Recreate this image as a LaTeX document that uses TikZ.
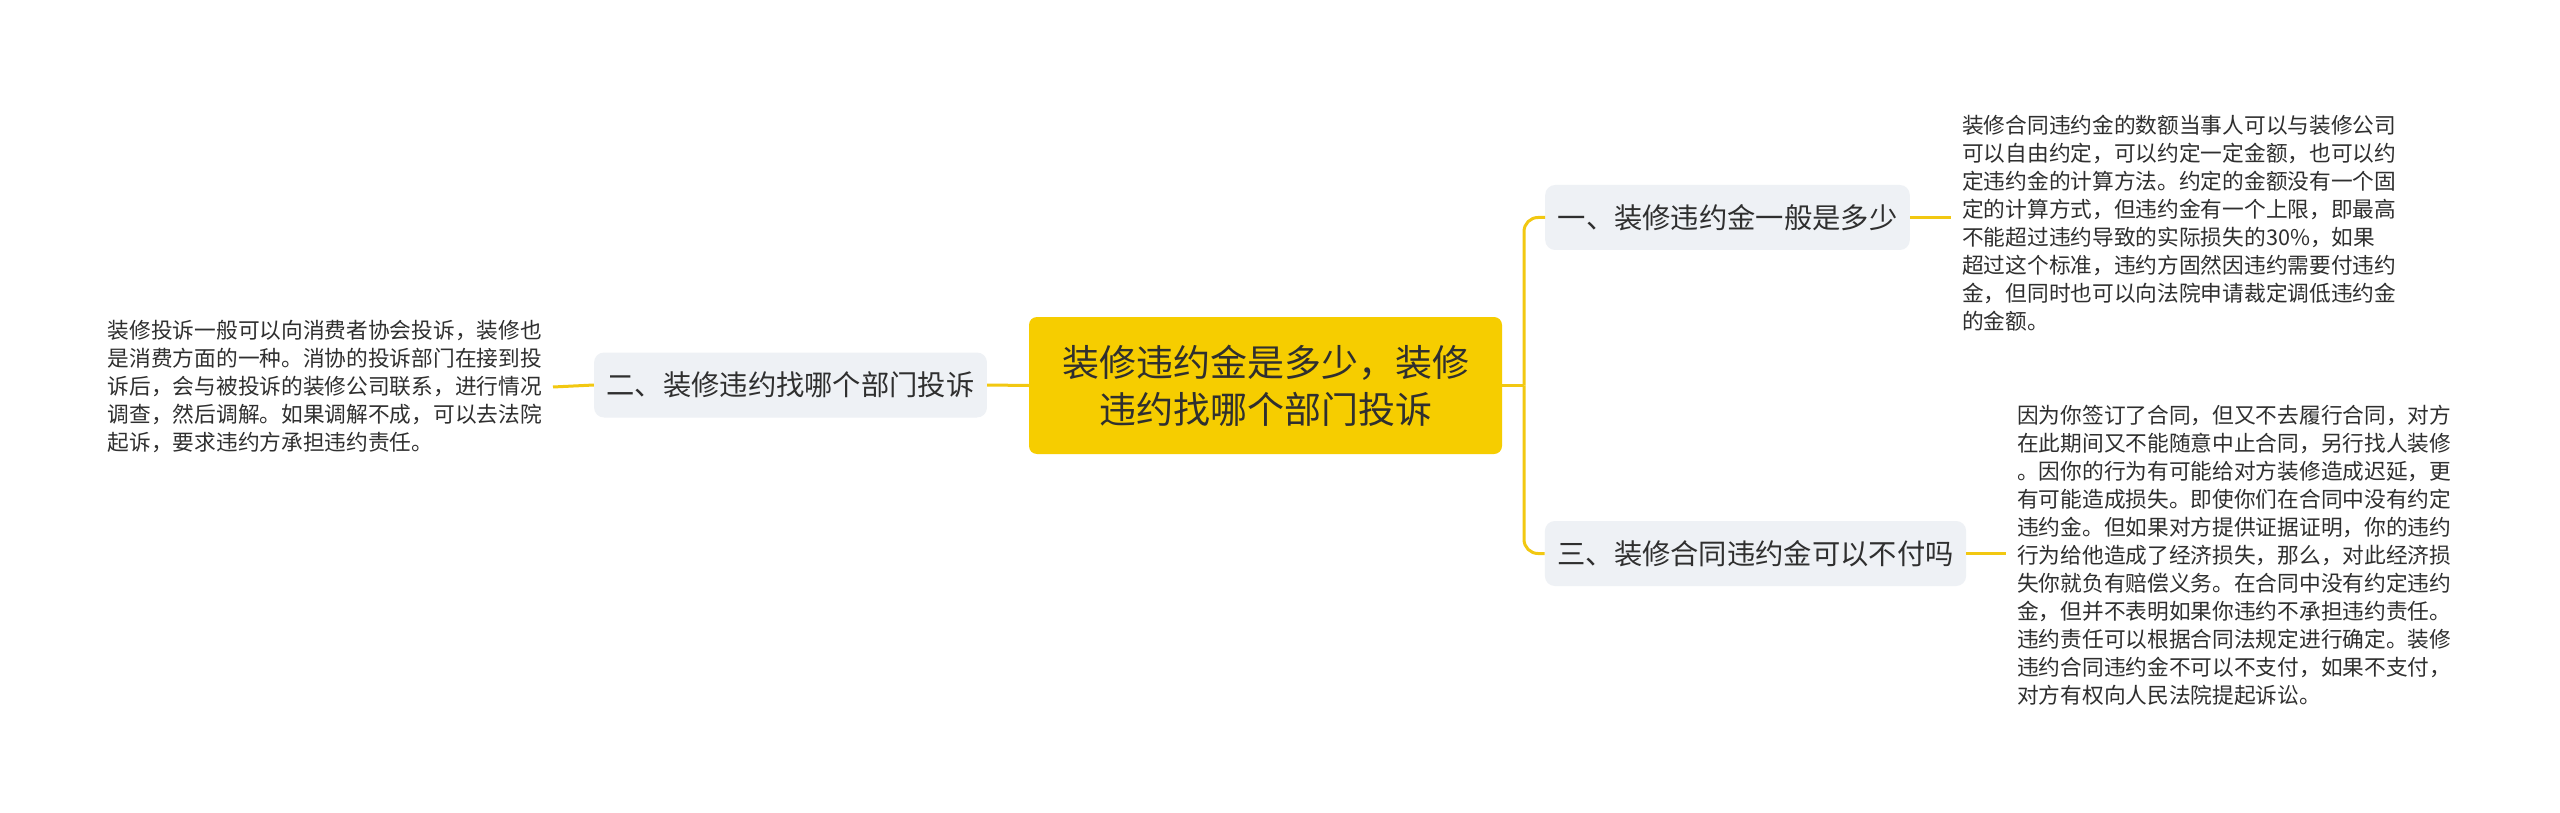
\documentclass[tikz,border=0pt]{standalone}
\usepackage{fontspec}
\setmainfont{Noto Sans CJK SC}
\usetikzlibrary{positioning}
\definecolor{mainyellow}{HTML}{F6CD00}
\definecolor{linecol}{HTML}{F2C811}
\definecolor{subfill}{HTML}{EEF1F5}
\definecolor{txt}{HTML}{2F2F2F}
\begin{document}
\begin{tikzpicture}[x=1pt,y=-1pt,
  rootbox/.style={fill=mainyellow, rounded corners=8pt, minimum width=473pt, minimum height=137pt, align=center, text=txt, inner sep=0pt, font=\fontsize{37}{47}\selectfont},
  subbox/.style={fill=subfill, rounded corners=10pt, minimum height=65pt, inner xsep=12.5pt, inner ysep=0pt, text=txt, font=\fontsize{28.3}{34}\selectfont},
  para/.style={align=left, text=txt, inner xsep=11pt, inner ysep=0pt, font=\fontsize{21.7}{28}\selectfont},
  conn/.style={draw=linecol, line width=3pt}
]
\fill[white] (0,0) rectangle (2560,813);
\useasboundingbox (0,0) rectangle (2560,813);

\node[rootbox] (c) at (1265.5,385.5) {装修违约金是多少，装修\\违约找哪个部门投诉};
\node[subbox] (n1) at (1727.5,217.5) {一、装修违约金一般是多少};
\node[subbox] (n2) at (790.5,385) {二、装修违约找哪个部门投诉};
\node[subbox] (n3) at (1755.5,553.5) {三、装修合同违约金可以不付吗};

\node[para, anchor=west] (t1) at (1951,223.5) {装修合同违约金的数额当事人可以与装修公司\\可以自由约定，可以约定一定金额，也可以约\\定违约金的计算方法。约定的金额没有一个固\\定的计算方式，但违约金有一个上限，即最高\\不能超过违约导致的实际损失的30\%，如果\\超过这个标准，违约方固然因违约需要付违约\\金，但同时也可以向法院申请裁定调低违约金\\的金额。};
\node[para, anchor=east] (t2) at (553,387) {装修投诉一般可以向消费者协会投诉，装修也\\是消费方面的一种。消协的投诉部门在接到投\\诉后，会与被投诉的装修公司联系，进行情况\\调查，然后调解。如果调解不成，可以去法院\\起诉，要求违约方承担违约责任。};
\node[para, anchor=west] (t3) at (2006,555) {因为你签订了合同，但又不去履行合同，对方\\在此期间又不能随意中止合同，另行找人装修\\。因你的行为有可能给对方装修造成迟延，更\\有可能造成损失。即使你们在合同中没有约定\\违约金。但如果对方提供证据证明，你的违约\\行为给他造成了经济损失，那么，对此经济损\\失你就负有赔偿义务。在合同中没有约定违约\\金，但并不表明如果你违约不承担违约责任。\\违约责任可以根据合同法规定进行确定。装修\\违约合同违约金不可以不支付，如果不支付，\\对方有权向人民法院提起诉讼。};

\coordinate (j) at (1524,385.5);
\draw[conn] (c.east) -- (j);
\draw[conn, rounded corners=14pt] (n1.west) -| (j);
\draw[conn, rounded corners=14pt] (n3.west) -| (j);
\draw[conn] (c.west) -- (n2.east);
\draw[conn] (n2.west) -- (t2.east);
\draw[conn] (n1.east) -- (t1.west |- n1.east);
\draw[conn] (n3.east) -- (t3.west |- n3.east);
\end{tikzpicture}
\end{document}
